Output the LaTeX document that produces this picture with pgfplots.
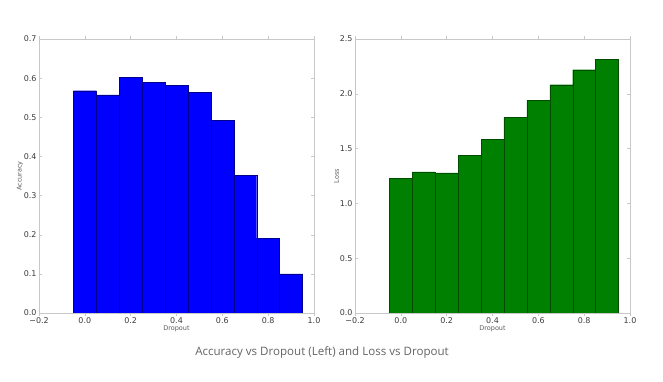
\documentclass[border=0pt]{standalone}
\usepackage{pgfplots}
\pgfplotsset{compat=1.18}
\usepackage{fontspec}
\setmainfont{DejaVu Sans}
\newfontfamily\capfont{Open Sans}
\definecolor{framegray}{RGB}{200,200,200}
\definecolor{ticktext}{RGB}{60,60,60}
\definecolor{labtext}{RGB}{90,90,90}
\definecolor{captext}{RGB}{100,100,100}
\pgfplotstableread{
x acc loss
0.0 0.568 1.230
0.1 0.557 1.288
0.2 0.602 1.279
0.3 0.589 1.437
0.4 0.581 1.583
0.5 0.563 1.787
0.6 0.492 1.940
0.7 0.352 2.083
0.8 0.191 2.220
0.9 0.0997 2.317
}\data
\pgfplotsset{
  mystyle/.style={
    scale only axis, width=275bp, height=274bp,
    anchor=south west,
    xmin=-0.2, xmax=1.0, ymin=0,
    xtick={-0.2,0,0.2,0.4,0.6,0.8,1.0},
    xticklabels={−0.2,0.0,0.2,0.4,0.6,0.8,1.0},
    /pgf/number format/assume math mode=true,
    /pgf/number format/fixed, /pgf/number format/fixed zerofill,
    /pgf/number format/precision=1,
    tick label style={font=\fontsize{8}{9}\selectfont, text=ticktext},
    label style={font=\fontsize{6.5}{7}\selectfont, text=labtext},
    axis line style={framegray},
    tick style={framegray, line width=0.4pt},
    major tick length=3bp,
    tick align=inside,
    xticklabel style={yshift=2bp},
    yticklabel style={xshift=1bp},
    xlabel={Dropout},
    xlabel style={yshift=5bp},
    ylabel style={yshift=-6bp},
    ybar, bar width=0.1, bar shift=0pt,
  }
}
\begin{document}
\begin{tikzpicture}
\path[use as bounding box] (0,0) rectangle (663bp,382bp);
\begin{axis}[mystyle, at={(39bp,69bp)}, ymax=0.7,
  ytick={0,0.1,...,0.7}, ylabel={Accuracy}]
\addplot[fill=blue, draw=blue!55!black, line width=0.3pt] table[x=x,y=acc]{\data};
\end{axis}
\begin{axis}[mystyle, at={(355bp,69bp)}, ymax=2.5,
  ytick={0,0.5,...,2.5}, ylabel={Loss}]
\addplot[fill=green!50!black, draw=green!30!black, line width=0.3pt] table[x=x,y=loss]{\data};
\end{axis}
\node[font=\capfont\fontsize{11.6}{13}\selectfont, text=captext] at (322bp,30bp) {Accuracy vs Dropout (Left) and Loss vs Dropout};
\end{tikzpicture}
\end{document}
